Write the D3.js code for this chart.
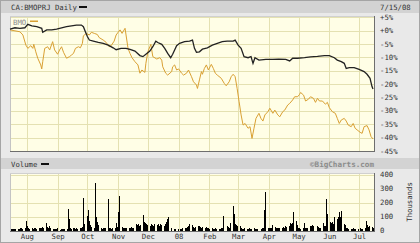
<!DOCTYPE html>
<html>
<head>
<meta charset="utf-8">
<script src="https://cdn.jsdelivr.net/npm/d3@7/dist/d3.min.js"></script>
<style>
	body { margin: 0; background: #fff; }
	text { font-family: "DejaVu Sans Mono", monospace; font-size: 7.3px; fill: #333; }
</style>
</head>
<body>
<div id="chart"></div>
<script>

/* BigCharts style daily chart: CA:BMOPRJ vs BMO, % change, with volume below */

// ~~~~~~~~~~~~~~~~~~~~~~~~~~~~~~~~~~~~~~~~~~~~~~~~~~~~~~~~~~~~~~~~~~~~~~~~
// data

// CA:BMOPRJ (black line), % change
var fundDates = [
	"2007-07-15","2007-07-20","2007-07-25","2007-07-30","2007-08-02","2007-08-06","2007-08-11","2007-08-16",
	"2007-08-17","2007-08-21","2007-08-26","2007-08-31","2007-09-05","2007-09-10","2007-09-15","2007-09-20",
	"2007-09-25","2007-09-27","2007-09-29","2007-10-01","2007-10-03","2007-10-07","2007-10-12","2007-10-17",
	"2007-10-22","2007-10-27","2007-10-30","2007-11-04","2007-11-09","2007-11-13","2007-11-18","2007-11-23",
	"2007-11-26","2007-11-29","2007-12-03","2007-12-06","2007-12-09","2007-12-11","2007-12-15","2007-12-18",
	"2007-12-21","2007-12-24","2007-12-26","2007-12-30","2008-01-02","2008-01-07","2008-01-12","2008-01-15",
	"2008-01-17","2008-01-19","2008-01-22","2008-01-25","2008-01-30","2008-02-04","2008-02-09","2008-02-14",
	"2008-02-19","2008-02-25","2008-02-27","2008-03-01","2008-03-04","2008-03-07","2008-03-11","2008-03-14",
	"2008-03-16","2008-03-18","2008-03-22","2008-03-29","2008-04-05","2008-04-11","2008-04-18","2008-04-22",
	"2008-04-25","2008-04-30","2008-05-07","2008-05-13","2008-05-20","2008-05-27","2008-06-01","2008-06-06",
	"2008-06-09","2008-06-13","2008-06-16","2008-06-18","2008-06-21","2008-06-26","2008-07-01","2008-07-06",
	"2008-07-09","2008-07-12","2008-07-14","2008-07-15"
];
var fundChange = [
	0.6, 1.1, 0.9, 1.1, 2.4, 1.8, 1.5, 0.9,
	-0.6, 0.3, 0.3, 0.6, 1.1, 1.5, 1.8, 2.1,
	2.1, 1.5, -0.4, -2.2, -3.5, -3.9, -4.4, -4.7,
	-5.4, -6.4, -7.1, -6.6, -6.6, -7.0, -7.6, -9.3,
	-9.7, -8.8, -7.6, -6.0, -3.9, -4.4, -5.1, -6.6,
	-8.5, -10.1, -8.8, -5.6, -4.7, -4.1, -3.9, -3.5,
	-6.6, -8.1, -7.9, -6.9, -6.4, -5.4, -4.7, -4.1,
	-3.9, -3.9, -3.5, -5.4, -6.6, -9.7, -10.1, -9.7,
	-12.2, -10.1, -11.0, -10.7, -10.7, -10.6, -10.7, -11.3,
	-10.3, -10.3, -10.1, -9.8, -9.6, -9.3, -9.3, -10.1,
	-11.0, -11.6, -12.2, -14.1, -13.8, -13.8, -14.5, -15.3,
	-16.3, -17.8, -20.9, -21.8
];

// BMO (orange line), % change
var bmoDates = [
	"2007-07-15","2007-07-25","2007-07-28","2007-07-31","2007-08-02","2007-08-05","2007-08-07","2007-08-08",
	"2007-08-10","2007-08-12","2007-08-15","2007-08-16","2007-08-17","2007-08-19","2007-08-22","2007-08-24",
	"2007-08-27","2007-08-29","2007-09-01","2007-09-03","2007-09-05","2007-09-07","2007-09-10","2007-09-13",
	"2007-09-15","2007-09-17","2007-09-19","2007-09-22","2007-09-24","2007-09-26","2007-09-27","2007-09-30",
	"2007-10-03","2007-10-05","2007-10-08","2007-10-11","2007-10-13","2007-10-17","2007-10-20","2007-10-23",
	"2007-10-25","2007-10-28","2007-10-30","2007-11-01","2007-11-03","2007-11-05","2007-11-08","2007-11-09",
	"2007-11-11","2007-11-13","2007-11-15","2007-11-18","2007-11-21","2007-11-23","2007-11-25","2007-11-28",
	"2007-11-29","2007-12-01","2007-12-03","2007-12-04","2007-12-06","2007-12-10","2007-12-13","2007-12-15",
	"2007-12-16","2007-12-19","2007-12-21","2007-12-25","2007-12-26","2007-12-28","2007-12-30","2008-01-01",
	"2008-01-04","2008-01-06","2008-01-09","2008-01-11","2008-01-14","2008-01-16","2008-01-19","2008-01-20",
	"2008-01-22","2008-01-24","2008-01-25","2008-01-27","2008-01-29","2008-01-31","2008-02-03","2008-02-05",
	"2008-02-07","2008-02-09","2008-02-13","2008-02-16","2008-02-18","2008-02-21","2008-02-23","2008-02-25",
	"2008-02-27","2008-02-29","2008-03-02","2008-03-04","2008-03-06","2008-03-08","2008-03-11","2008-03-13",
	"2008-03-15","2008-03-17","2008-03-19","2008-03-22","2008-03-24","2008-03-26","2008-03-28","2008-03-31",
	"2008-04-02","2008-04-05","2008-04-07","2008-04-10","2008-04-12","2008-04-15","2008-04-17","2008-04-20",
	"2008-04-22","2008-04-25","2008-04-27","2008-04-30","2008-05-02","2008-05-03","2008-05-06","2008-05-08",
	"2008-05-11","2008-05-13","2008-05-16","2008-05-18","2008-05-20","2008-05-22","2008-05-25","2008-05-28",
	"2008-05-30","2008-06-01","2008-06-04","2008-06-07","2008-06-09","2008-06-11","2008-06-13","2008-06-16",
	"2008-06-18","2008-06-20","2008-06-23","2008-06-25","2008-06-27","2008-06-29","2008-07-02","2008-07-04",
	"2008-07-06","2008-07-09","2008-07-11","2008-07-13","2008-07-15"
];
var bmoChange = [
	0.3, -0.4, -1.6, -5.4, -6.6, -5.6, -6.6, -5.1,
	-7.9, -10.3, -12.8, -14.3, -11.6, -6.6, -6.0, -7.2,
	-4.1, -7.2, -8.8, -7.2, -6.0, -8.1, -10.3, -9.7,
	-9.1, -8.5, -6.6, -6.0, -6.4, -4.7, -1.9, -1.0,
	-1.6, -0.6, -1.0, -1.4, -2.6, -3.5, -4.4, -6.0,
	-5.6, -3.9, -1.6, -0.6, 0.3, -1.0, 0.9, -1.6,
	-6.6, -8.5, -10.1, -11.6, -12.8, -15.9, -14.7, -15.6,
	-12.2, -7.9, -6.0, -5.1, -9.7, -10.6, -10.1, -11.0,
	-13.5, -15.9, -16.6, -15.3, -13.5, -12.8, -14.7, -14.3,
	-15.9, -16.6, -15.9, -14.7, -17.2, -19.1, -20.3, -21.6,
	-18.4, -15.3, -16.3, -14.1, -12.8, -14.7, -12.6, -14.1,
	-15.9, -16.6, -17.8, -19.7, -20.6, -19.1, -17.2, -16.3,
	-17.2, -21.6, -26.6, -31.5, -35.3, -34.7, -36.5, -35.9,
	-40.3, -36.5, -32.8, -30.9, -32.8, -33.8, -31.5, -30.3,
	-29.0, -30.9, -29.7, -31.5, -32.2, -30.3, -29.7, -27.8,
	-27.2, -25.9, -24.7, -24.7, -23.8, -23.1, -24.1, -26.3,
	-25.6, -24.7, -25.3, -26.8, -25.3, -26.3, -26.3, -27.5,
	-26.8, -28.8, -30.3, -30.9, -32.8, -34.7, -33.4, -32.8,
	-33.8, -35.3, -35.9, -34.7, -36.5, -37.1, -38.0, -38.4,
	-35.9, -35.5, -37.1, -39.6, -40.5
];

// volume in thousands, one row per week (Mon..Fri), first week starts 2007-07-16
var volumeStart = "2007-07-16";
var volumeWeeks = [
	[8, 10, 12, 8, 10],      [12, 10, 15, 18, 12],    [20, 65, 30, 15, 12],    [15, 12, 18, 20, 14],
	[15, 18, 20, 25, 18],    [55, 25, 20, 30, 18],    [10, 12, 8, 10, 15],     [5, 10, 12, 8, 10],
	[12, 155, 80, 15, 12],   [15, 20, 12, 18, 10],    [15, 20, 25, 233, 45],   [107, 148, 70, 40, 25],
	[20, 338, 100, 60, 40],  [15, 12, 18, 15, 20],    [226, 20, 15, 12, 18],   [20, 55, 25, 130, 243],
	[25, 20, 18, 15, 20],    [15, 20, 25, 18, 20],    [45, 40, 45, 30, 40],    [114, 60, 55, 45, 40],
	[35, 45, 40, 30, 45],    [40, 50, 35, 45, 40],    [35, 45, 60, 80, 95],    [20, 0, 0, 10, 8],
	[8, 0, 12, 10, 15],      [15, 20, 25, 30, 45],    [40, 30, 25, 20, 25],    [30, 35, 25, 20, 25],
	[20, 25, 15, 20, 12],    [15, 12, 10, 15, 12],    [12, 10, 15, 18, 107],   [0, 30, 25, 20, 55],
	[178, 120, 45, 40, 35],  [30, 15, 12, 10, 15],    [12, 10, 15, 12, 10],    [15, 12, 10, 12, 0],
	[12, 15, 18, 145, 274],  [20, 15, 18, 20, 40],    [25, 20, 15, 18, 20],    [20, 25, 18, 30, 25],
	[30, 55, 50, 55, 131],   [65, 40, 20, 15, 12],    [15, 55, 20, 18, 15],    [30, 35, 40, 30, 35],
	[0, 30, 25, 20, 15],     [55, 30, 35, 226, 120],  [60, 55, 60, 50, 95],    [80, 95, 130, 100, 138],
	[45, 40, 20, 15, 12],    [12, 10, 15, 12, 10],    [12, 0, 15, 10, 12],     [20, 67, 40, 25, 30],
	[25, 20]
];

// axis labels
var pctTicks = [5, 0, -5, -10, -15, -20, -25, -30, -35, -40, -45];
var volTicks = [0, 100, 200, 300, 400];
var monthLabels = ["Aug", "Sep", "Oct", "Nov", "Dec", "08", "Feb", "Mar", "Apr", "May", "Jun", "Jul"];

// ~~~~~~~~~~~~~~~~~~~~~~~~~~~~~~~~~~~~~~~~~~~~~~~~~~~~~~~~~~~~~~~~~~~~~~~~
function main(){

	var width = 420,
		height = 243;

	var plotLeft = 10, plotRight = 374;
	var mainTop = 16, mainBottom = 151;
	var volTop = 173, volBottom = 231;

	var parse = d3.timeParse("%Y-%m-%d");

	var svg = d3.select("#chart").append("svg")
		.attr("width", width)
		.attr("height", height)
		.style("display", "block");

	// page background and header bars
	svg.append("rect")
		.attr("x", 0).attr("y", 0)
		.attr("width", width).attr("height", height)
		.attr("fill", "#e9e9e9");

	svg.append("rect")
		.attr("x", 0).attr("y", 0)
		.attr("width", width).attr("height", 13)
		.attr("fill", "#d3d3d3");

	svg.append("rect")
		.attr("x", 0).attr("y", 158)
		.attr("width", width).attr("height", 11)
		.attr("fill", "#d3d3d3");

	svg.append("rect")
		.attr("x", 0.5).attr("y", 0.5)
		.attr("width", width - 1).attr("height", height - 1)
		.attr("fill", "none")
		.attr("stroke", "#a5a5a5");

	// scales
	var x = d3.scaleTime()
		.domain([parse("2007-07-15"), parse("2008-07-16")])
		.range([plotLeft, plotRight]);

	var y = d3.scaleLinear()
		.domain([5.5, -45])
		.range([mainTop, mainBottom]);

	var yVol = d3.scaleLinear()
		.domain([0, 400])
		.range([230.5, 174.5]);

	var months = d3.timeMonth.range(parse("2007-08-01"), parse("2008-07-02"));

	// plot panels
	[[mainTop, mainBottom], [volTop, volBottom]].forEach(function(p){
		svg.append("rect")
			.attr("x", plotLeft).attr("y", p[0])
			.attr("width", plotRight - plotLeft).attr("height", p[1] - p[0])
			.attr("fill", "#fffee6");
	});

	// grid lines
	var grid = svg.append("g")
		.attr("stroke", "#e4e1b2")
		.attr("stroke-width", 1)
		.attr("shape-rendering", "crispEdges");

	grid.selectAll(".hmain")
		.data(pctTicks.slice(0, -1)).enter()
		.append("line")
		.attr("x1", plotLeft).attr("x2", plotRight)
		.attr("y1", d => Math.round(y(d)) + 0.5)
		.attr("y2", d => Math.round(y(d)) + 0.5);

	grid.selectAll(".hvol")
		.data(volTicks.slice(1)).enter()
		.append("line")
		.attr("x1", plotLeft).attr("x2", plotRight)
		.attr("y1", d => Math.round(yVol(d)) + 0.5)
		.attr("y2", d => Math.round(yVol(d)) + 0.5);

	[[mainTop, mainBottom], [volTop, volBottom]].forEach(function(p){
		grid.selectAll(null)
			.data(months).enter()
			.append("line")
			.attr("x1", d => Math.round(x(d)) + 0.5)
			.attr("x2", d => Math.round(x(d)) + 0.5)
			.attr("y1", p[0]).attr("y2", p[1]);
	});

	// panel borders, light top/left and dark bottom/right
	[[mainTop, mainBottom], [volTop, volBottom]].forEach(function(p){
		var b = svg.append("g").attr("shape-rendering", "crispEdges");
		b.append("line")
			.attr("x1", plotLeft + 0.5).attr("x2", plotLeft + 0.5)
			.attr("y1", p[0]).attr("y2", p[1])
			.attr("stroke", "#c4c4c4");
		b.append("line")
			.attr("x1", plotLeft).attr("x2", plotRight)
			.attr("y1", p[0] + 0.5).attr("y2", p[0] + 0.5)
			.attr("stroke", "#d0d0d0");
		b.append("line")
			.attr("x1", plotLeft).attr("x2", plotRight + 1)
			.attr("y1", p[1] + 0.5).attr("y2", p[1] + 0.5)
			.attr("stroke", "#6e6e6e");
		b.append("line")
			.attr("x1", plotRight + 0.5).attr("x2", plotRight + 0.5)
			.attr("y1", p[0]).attr("y2", p[1])
			.attr("stroke", "#6e6e6e");
	});

	// price lines
	var line = d3.line()
		.x(d => x(d[0]))
		.y(d => y(d[1]));

	var bmo = bmoDates.map((d, i) => [parse(d), bmoChange[i]]);
	var fund = fundDates.map((d, i) => [parse(d), fundChange[i]]);

	svg.append("path")
		.datum(bmo)
		.attr("d", line)
		.attr("fill", "none")
		.attr("stroke", "#d9a033")
		.attr("stroke-width", 1);

	svg.append("path")
		.datum(fund)
		.attr("d", line)
		.attr("fill", "none")
		.attr("stroke", "#222")
		.attr("stroke-width", 1.3);

	// volume bars
	var vol = [];
	var start = parse(volumeStart);
	volumeWeeks.forEach(function(week, w){
		week.forEach(function(v, i){
			vol.push([d3.timeDay.offset(start, w * 7 + i), v]);
		});
	});

	svg.append("g")
		.attr("shape-rendering", "crispEdges")
		.selectAll("rect")
		.data(vol).enter()
		.append("rect")
		.attr("x", d => Math.round(x(d[0])))
		.attr("width", 1)
		.attr("y", d => yVol(d[1]))
		.attr("height", d => yVol(0) - yVol(d[1]))
		.attr("fill", "#000");

	// right axis labels
	svg.selectAll(".pct")
		.data(pctTicks).enter()
		.append("text")
		.attr("x", 380)
		.attr("y", d => y(d))
		.attr("dy", "0.35em")
		.text(d => (d >= 0 ? "+" : "") + d + "%");

	svg.selectAll(".vol")
		.data(volTicks).enter()
		.append("text")
		.attr("x", 380)
		.attr("y", d => yVol(d))
		.attr("dy", "0.35em")
		.text(d => d);

	svg.append("text")
		.attr("transform", "translate(412,202) rotate(-90)")
		.attr("text-anchor", "middle")
		.text("Thousands");

	// month labels
	svg.selectAll(".month")
		.data(months).enter()
		.append("text")
		.attr("x", d => x(d) + 0.5)
		.attr("y", 239)
		.attr("text-anchor", "middle")
		.text((d, i) => monthLabels[i]);

	// header texts and legends
	svg.append("text")
		.attr("x", 11).attr("y", 9.5)
		.text("CA:BMOPRJ Daily");

	svg.append("rect")
		.attr("x", 79).attr("y", 6)
		.attr("width", 8).attr("height", 2)
		.attr("fill", "#111");

	svg.append("text")
		.attr("x", 380).attr("y", 9.5)
		.text("7/15/08");

	svg.append("text")
		.attr("x", 13).attr("y", 24.5)
		.style("fill", "#8a8a8a")
		.text("BMO");

	svg.append("rect")
		.attr("x", 30).attr("y", 20.5)
		.attr("width", 8).attr("height", 1.5)
		.attr("fill", "#d9a033");

	svg.append("text")
		.attr("x", 11).attr("y", 166.5)
		.text("Volume");

	svg.append("rect")
		.attr("x", 41).attr("y", 163)
		.attr("width", 8).attr("height", 2)
		.attr("fill", "#111");

	svg.append("text")
		.attr("x", 374).attr("y", 166.5)
		.attr("text-anchor", "end")
		.style("font-weight", "bold")
		.style("fill", "#8c8c8c")
		.style("font-size", "7.6px")
		.text("\u00a9BigCharts.com");
}

main();
</script>
</body>
</html>
